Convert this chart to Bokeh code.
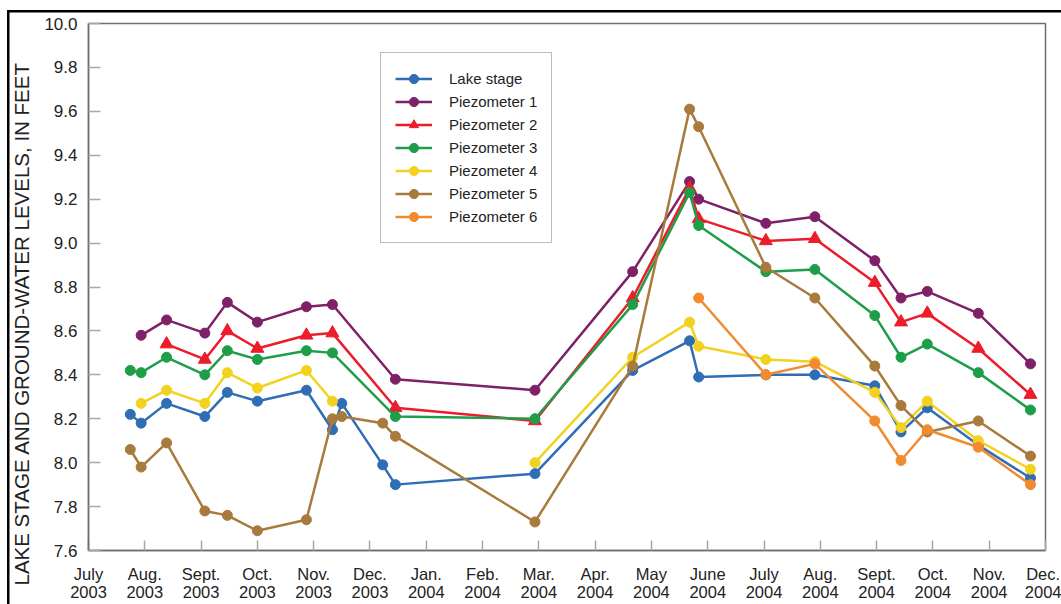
import math
import calendar
from bokeh.plotting import figure
from bokeh.models import (FixedTicker, Legend, LegendItem, Title,
                          Range1d, ColumnDataSource)
from bokeh.embed import file_html
from bokeh.resources import INLINE

# ---------------- data ----------------
dates = ["2003-07-24", "2003-07-30", "2003-08-13", "2003-09-03", "2003-09-15",
         "2003-10-01", "2003-10-28", "2003-11-11", "2003-11-16", "2003-12-08",
         "2003-12-15", "2004-02-28", "2004-04-21", "2004-05-22", "2004-05-27",
         "2004-07-02", "2004-07-29", "2004-08-31", "2004-09-14", "2004-09-28",
         "2004-10-26", "2004-11-23"]

N = None            # no measurement on that date (line continues)
GAP = float("nan")  # line is broken here

lake_stage = [8.22, 8.18, 8.27, 8.21, 8.32, 8.28, 8.33, 8.15, 8.27, 7.99, 7.90,
              7.95, 8.42, 8.555, 8.39, 8.40, 8.40, 8.35, 8.14, 8.25, 8.08, 7.93]
piezometer1 = [N, 8.58, 8.65, 8.59, 8.73, 8.64, 8.71, 8.72, N, N, 8.38,
               8.33, 8.87, 9.28, 9.20, 9.09, 9.12, 8.92, 8.75, 8.78, 8.68, 8.45]
piezometer2 = [N, N, 8.54, 8.47, 8.60, 8.52, 8.58, 8.59, N, N, 8.25,
               8.19, 8.75, 9.25, 9.11, 9.01, 9.02, 8.82, 8.64, 8.68, 8.52, 8.31]
piezometer3 = [8.42, 8.41, 8.48, 8.40, 8.51, 8.47, 8.51, 8.50, N, N, 8.21,
               8.20, 8.72, 9.23, 9.08, 8.87, 8.88, 8.67, 8.48, 8.54, 8.41, 8.24]
piezometer4 = [N, 8.27, 8.33, 8.27, 8.41, 8.34, 8.42, 8.28, GAP, N, N,
               8.00, 8.48, 8.64, 8.53, 8.47, 8.46, 8.32, 8.16, 8.28, 8.10, 7.97]
piezometer5 = [8.06, 7.98, 8.09, 7.78, 7.76, 7.69, 7.74, 8.20, 8.21, 8.18, 8.12,
               7.73, 8.44, 9.61, 9.53, 8.89, 8.75, 8.44, 8.26, 8.14, 8.19, 8.03]
piezometer6 = [N, N, N, N, N, N, N, N, N, N, N,
               N, N, N, 8.75, 8.40, 8.45, 8.19, 8.01, 8.15, 8.07, 7.90]

series_names = ["Lake stage", "Piezometer 1", "Piezometer 2", "Piezometer 3",
                "Piezometer 4", "Piezometer 5", "Piezometer 6"]
series_values = [lake_stage, piezometer1, piezometer2, piezometer3,
                 piezometer4, piezometer5, piezometer6]
series_colors = ["#2f6db5", "#7e2167", "#ec1c2a", "#1f9e4a",
                 "#f2d21f", "#a87a3c", "#f28a30"]
series_markers = ["circle", "circle", "triangle", "circle",
                  "circle", "circle", "circle"]

month_labels = ["July\n2003", "Aug.\n2003", "Sept.\n2003", "Oct.\n2003", "Nov.\n2003",
                "Dec.\n2003", "Jan.\n2004", "Feb.\n2004", "Mar.\n2004", "Apr.\n2004",
                "May\n2004", "June\n2004", "July\n2004", "Aug.\n2004", "Sept.\n2004",
                "Oct.\n2004", "Nov.\n2004", "Dec.\n2004"]
y_ticks = [7.6, 7.8, 8.0, 8.2, 8.4, 8.6, 8.8, 9.0, 9.2, 9.4, 9.6, 9.8, 10.0]


def month_pos(s):
    """months elapsed since 1 July 2003 (axis unit = one calendar month)"""
    y, m, d = map(int, s.split("-"))
    dim = calendar.monthrange(y, m)[1]
    return (y - 2003) * 12 + (m - 7) + (d - 1) / dim


xpos = [month_pos(d) for d in dates]

FONT = "Liberation Sans"
AXIS_GRAY = "#6e6e6e"
TXT = "#222222"

p = figure(width=1061, height=604, output_backend="svg", toolbar_location=None,
           x_range=Range1d(0, 17), y_range=Range1d(7.6, 10.0),
           min_border_left=88, min_border_right=16, min_border_top=23,
           min_border_bottom=50)
p.background_fill_color = "white"
p.border_fill_color = None
# black frame lines along the top and left edge of the original figure
p.styles = {
    "background": ("linear-gradient(#000, #000) 7px 10px / 100% 2.5px no-repeat, "
                   "linear-gradient(#000, #000) 7px 10px / 2.5px 100% no-repeat, "
                   "#ffffff"),
}
p.xgrid.visible = False
p.ygrid.visible = False
p.outline_line_color = AXIS_GRAY
p.outline_line_width = 1.5

# x axis
p.xaxis.ticker = FixedTicker(ticks=list(range(len(month_labels))))
p.xaxis.major_label_overrides = {i: lab for i, lab in enumerate(month_labels)}
p.xaxis.major_tick_in = 10
p.xaxis.major_tick_out = 0
p.xaxis.major_label_standoff = 14
p.xaxis.major_label_text_font = FONT
p.xaxis.major_label_text_font_size = "16.5px"
p.xaxis.major_label_text_line_height = 1.05
p.xaxis.major_label_text_color = TXT

# y axis
p.yaxis.ticker = FixedTicker(ticks=y_ticks)
p.yaxis.major_label_overrides = {t: f"{t:.1f}" for t in y_ticks}
p.yaxis.major_tick_in = 12
p.yaxis.major_tick_out = 0
p.yaxis.major_label_standoff = 11
p.yaxis.major_label_text_font = FONT
p.yaxis.major_label_text_font_size = "17px"
p.yaxis.major_label_text_color = TXT

for ax in (p.xaxis, p.yaxis):
    ax.axis_line_color = AXIS_GRAY
    ax.axis_line_width = 1.5
    ax.major_tick_line_color = "#a8a8a8"
    ax.major_tick_line_width = 1.5
    ax.minor_tick_line_color = None

# series
items = []
for name, vals, col, mk in zip(series_names, series_values, series_colors, series_markers):
    xs, ys = [], []
    for x, v in zip(xpos, vals):
        if v is None:
            continue
        xs.append(x)
        ys.append(v)
    src = ColumnDataSource(dict(x=xs, y=ys))
    r_line = p.line("x", "y", source=src, line_color=col, line_width=2.5)
    size = 13 if mk == "triangle" else 10
    r_pts = p.scatter("x", "y", source=src, marker=mk, size=size,
                      fill_color=col, line_color=col)
    items.append(LegendItem(label=name, renderers=[r_line, r_pts]))

legend = Legend(items=items, location=(292, 307))
legend.glyph_width = 37
legend.glyph_height = 23
legend.label_height = 23
legend.label_standoff = 17
legend.padding = 14
legend.spacing = 0
legend.margin = 0
legend.label_text_font = FONT
legend.label_text_font_size = "15px"
legend.label_text_color = TXT
legend.border_line_color = "#7a7a7a"
legend.border_line_width = 1.5
legend.background_fill_color = "white"
legend.background_fill_alpha = 1.0
p.add_layout(legend, "center")

# y-axis title, placed like the original (starts below the frame bottom)
ytitle = Title(text="LAKE STAGE AND GROUND-WATER LEVELS, IN FEET",
               align="left", offset=-35, vertical_align="top", standoff=13,
               text_font=FONT, text_font_size="20.5px", text_font_style="normal",
               text_color=TXT)
p.add_layout(ytitle, "left")

open("out.html", "w").write(file_html(p, INLINE))
